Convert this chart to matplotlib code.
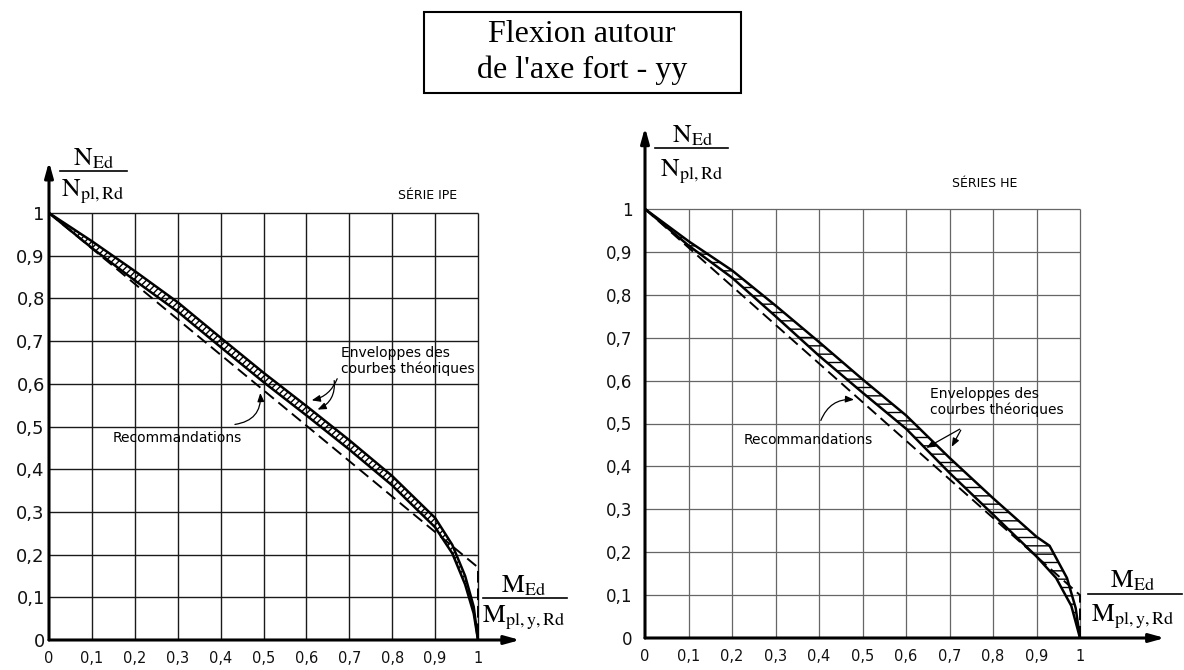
import matplotlib
matplotlib.use('Agg')
import matplotlib.pyplot as plt
from matplotlib.patches import Rectangle
from matplotlib.lines import Line2D
import numpy as np

W, H = 1184, 670

plt.rcParams.update({
    'font.family': 'DejaVu Sans',
    'mathtext.fontset': 'stix',
    'hatch.linewidth': 1.0,
})

# ---- data ----
grid_ticks = [0, 0.1, 0.2, 0.3, 0.4, 0.5, 0.6, 0.7, 0.8, 0.9, 1.0]
tick_labels = ['0', '0,1', '0,2', '0,3', '0,4', '0,5', '0,6', '0,7', '0,8', '0,9', '1']

# IPE series: envelope of theoretical curves + recommendation (dashed)
ipe_x = [0, 0.1, 0.2, 0.3, 0.4, 0.5, 0.6, 0.7, 0.8, 0.9, 0.94, 0.97, 0.99, 1.0]
ipe_n_up = [1, 0.934, 0.864, 0.791, 0.708, 0.626, 0.548, 0.468, 0.384, 0.286, 0.223, 0.15, 0.078, 0]
ipe_n_lo = [1, 0.918, 0.842, 0.769, 0.686, 0.604, 0.526, 0.446, 0.362, 0.264, 0.203, 0.13, 0.062, 0]
ipe_rec_x = [0, 1, 1]
ipe_rec_n = [1, 0.17, 0]

# HE series
he_x_up = [0, 0.1, 0.2, 0.3, 0.4, 0.5, 0.6, 0.7, 0.8, 0.9, 0.93, 0.97, 0.99, 1.0]
he_n_up = [1, 0.925, 0.857, 0.775, 0.69, 0.603, 0.519, 0.42, 0.326, 0.236, 0.215, 0.14, 0.07, 0]
he_x_lo = [0, 0.1, 0.2, 0.3, 0.4, 0.5, 0.6, 0.7, 0.8, 0.9, 0.945, 0.98, 1.0]
he_n_lo = [1, 0.915, 0.84, 0.75, 0.658, 0.572, 0.488, 0.385, 0.288, 0.19, 0.14, 0.075, 0]
he_rec_x = [0, 1, 1]
he_rec_n = [1, 0.1, 0]

fig = plt.figure(figsize=(W / 100, H / 100), dpi=100)


def make_axes(x0, y0, sx, sy, xmax, ymax):
    # position axes from pixel origin and pixel-per-unit scale
    ax = fig.add_axes([x0 / W, 1 - y0 / H, sx * xmax / W, sy * ymax / H])
    ax.set_xlim(0, xmax)
    ax.set_ylim(0, ymax)
    for s in ax.spines.values():
        s.set_visible(False)
    ax.patch.set_alpha(0)
    return ax


def frac(px, py_num, py_line, py_den, x0, x1, num, den, size=18.5):
    fig.text(px / W, 1 - py_num / H, num, ha='center', va='center', fontsize=size)
    fig.text(px / W, 1 - py_den / H, den, ha='center', va='center', fontsize=size)
    fig.add_artist(Line2D([x0 / W, x1 / W], [1 - py_line / H, 1 - py_line / H],
                          color='black', lw=1.2))


def setup(ax, xtip, ytip, grid_color, grid_lw, ypad, xpad, ysize, xsize):
    ax.vlines(grid_ticks[1:], 0, 1, color=grid_color, lw=grid_lw, zorder=1)
    ax.hlines(grid_ticks[1:], 0, 1, color=grid_color, lw=grid_lw, zorder=1)
    ax.annotate('', xy=(xtip, 0), xytext=(0, 0),
                arrowprops=dict(arrowstyle='-|>,head_length=0.9,head_width=0.25',
                                lw=2.2, color='black', shrinkA=0, shrinkB=0))
    ax.annotate('', xy=(0, ytip), xytext=(0, 0),
                arrowprops=dict(arrowstyle='-|>,head_length=0.9,head_width=0.25',
                                lw=2.2, color='black', shrinkA=0, shrinkB=0))
    ax.set_xticks(grid_ticks, tick_labels)
    ax.set_yticks(grid_ticks, tick_labels)
    ax.tick_params(length=0, colors='#111111')
    ax.tick_params(axis='y', pad=ypad, labelsize=ysize)
    ax.tick_params(axis='x', pad=xpad, labelsize=xsize)


ARROW = dict(arrowstyle='-|>,head_length=0.5,head_width=0.2', lw=0.9, color='black')

# ---------------- left: IPE ----------------
ax1 = make_axes(49, 640, 429, 427, 1.12, 1.2)
setup(ax1, 1.098, 1.12, '#1a1a1a', 1.0, 3, 8, 13, 10.5)
ax1.fill(np.concatenate([ipe_x, ipe_x[::-1]]), np.concatenate([ipe_n_up, ipe_n_lo[::-1]]),
         facecolor='none', edgecolor='black', lw=0, hatch='/////', zorder=2)
ax1.plot(ipe_x, ipe_n_up, color='black', lw=1.8, zorder=3)
ax1.plot(ipe_x, ipe_n_lo, color='black', lw=1.8, zorder=3)
ax1.plot(ipe_rec_x, ipe_rec_n, color='black', lw=1.4, ls=(0, (6, 3)), zorder=3)
ax1.text(0.883, 1.04, 'SÉRIE IPE', ha='center', va='center', fontsize=9)
ax1.text(0.30, 0.473, 'Recommandations', ha='center', va='center', fontsize=10)
ax1.annotate('', xy=(0.492, 0.585), xytext=(0.427, 0.504),
             arrowprops=dict(ARROW, connectionstyle='arc3,rad=0.5'))
ax1.text(0.681, 0.653, 'Enveloppes des\ncourbes théoriques', ha='left', va='center',
         fontsize=10, linespacing=1.1)
ax1.annotate('', xy=(0.606, 0.560), xytext=(0.674, 0.618),
             arrowprops=dict(ARROW, connectionstyle='arc3,rad=-0.3'))
ax1.annotate('', xy=(0.62, 0.537), xytext=(0.664, 0.614),
             arrowprops=dict(ARROW, connectionstyle='arc3,rad=-0.4'))

# ---------------- right: HE ----------------
ax2 = make_axes(645, 638, 435, 429, 1.2, 1.22)
setup(ax2, 1.195, 1.19, '#666666', 0.9, 9, 8, 12, 10.5)
ax2.fill(np.concatenate([he_x_up, he_x_lo[::-1]]), np.concatenate([he_n_up, he_n_lo[::-1]]),
         facecolor='none', edgecolor='black', lw=0, hatch='--', zorder=2)
ax2.plot(he_x_up, he_n_up, color='black', lw=1.8, zorder=3)
ax2.plot(he_x_lo, he_n_lo, color='black', lw=1.8, zorder=3)
ax2.plot(he_rec_x, he_rec_n, color='black', lw=1.4, ls=(0, (6, 3)), zorder=3)
ax2.text(0.78, 1.06, 'SÉRIES HE', ha='center', va='center', fontsize=9)
ax2.text(0.375, 0.462, 'Recommandations', ha='center', va='center', fontsize=10)
ax2.annotate('', xy=(0.487, 0.555), xytext=(0.402, 0.501),
             arrowprops=dict(ARROW, connectionstyle='arc3,rad=-0.4'))
ax2.text(0.655, 0.55, 'Enveloppes des\ncourbes théoriques', ha='left', va='center',
         fontsize=10, linespacing=1.1)
ax2.annotate('', xy=(0.641, 0.44), xytext=(0.729, 0.49),
             arrowprops=dict(ARROW, connectionstyle='arc3,rad=0.0'))
ax2.annotate('', xy=(0.702, 0.44), xytext=(0.729, 0.49),
             arrowprops=dict(ARROW, connectionstyle='arc3,rad=0.0'))

# ---------------- fraction labels ----------------
frac(93, 158, 171, 192, 60, 127, r'$\mathrm{N_{Ed}}$', r'$\mathrm{N_{pl,Rd}}$')
frac(524, 585, 598, 618, 483, 567, r'$\mathrm{M_{Ed}}$', r'$\mathrm{M_{pl,y,Rd}}$')
frac(692, 135, 148, 172, 655, 728, r'$\mathrm{N_{Ed}}$', r'$\mathrm{N_{pl,Rd}}$')
frac(1133, 580, 594, 617, 1088, 1182, r'$\mathrm{M_{Ed}}$', r'$\mathrm{M_{pl,y,Rd}}$')

# ---------------- boxed title ----------------
fig.add_artist(Rectangle((424 / W, 1 - 93 / H), 317 / W, 81 / H, transform=fig.transFigure,
                         facecolor='white', edgecolor='black', lw=1.5))
fig.text(582 / W, 1 - 35 / H, 'Flexion autour', ha='center', va='center',
         family='Liberation Serif', fontsize=23)
fig.text(582 / W, 1 - 70 / H, "de l'axe fort - yy", ha='center', va='center',
         family='Liberation Serif', fontsize=23)

fig.savefig('out.png', dpi=100)
plt.close(fig)
